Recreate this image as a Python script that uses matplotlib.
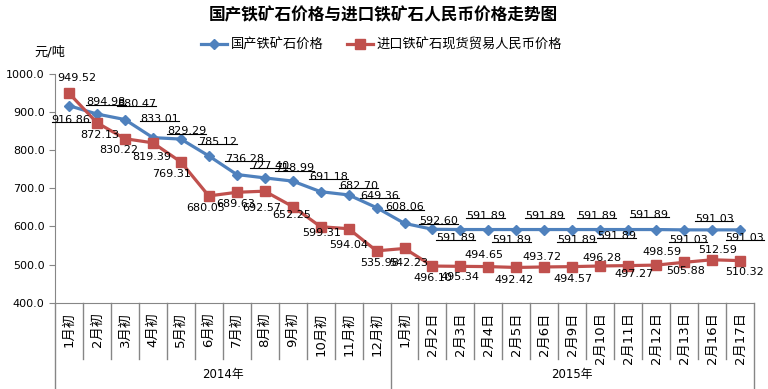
import matplotlib
matplotlib.use('Agg')
from matplotlib import pyplot as plt
from matplotlib.lines import Line2D
import numpy as np

plt.rcParams['font.family'] = ['DejaVu Sans', 'Noto Sans CJK SC']

# data
cats_2014 = ['1月初', '2月初', '3月初', '4月初', '5月初', '6月初', '7月初', '8月初',
             '9月初', '10月初', '11月初', '12月初']
cats_2015 = ['1月初', '2月2日', '2月3日', '2月4日', '2月5日', '2月6日', '2月9日',
             '2月10日', '2月11日', '2月12日', '2月13日', '2月16日', '2月17日']
groups = ['2014年', '2015年']

domestic = [916.86, 894.98, 880.47, 833.01, 829.29, 785.12, 736.28, 727.40, 718.99,
            691.18, 682.70, 649.36,
            608.06, 592.60, 591.89, 591.89, 591.89, 591.89, 591.89, 591.89, 591.89,
            591.89, 591.03, 591.03, 591.03]
imported = [949.52, 872.13, 830.22, 819.39, 769.31, 680.05, 689.63, 692.57, 652.25,
            599.31, 594.04, 535.98,
            542.23, 496.10, 495.34, 494.65, 492.42, 493.72, 494.57, 496.28, 497.27,
            498.59, 505.88, 512.59, 510.32]

# label offsets in pixels (dx, dy down)
blue_off = [(2, 14), (9, -12), (12, -16), (7, -19), (6, -8), (9, -14), (8, -16), (5, -12),
            (2, -13), (8, -15), (10, -9), (3, -12), (0, -16), (6, -8), (-5, 8), (-3, -14),
            (-5, 10), (0, -14), (4, 10), (-4, -14), (-12, 6), (-7, -15), (4, 10), (2, -11),
            (5, 8)]
red_off = [(8, -15), (3, 12), (-6, 11), (-1, 14), (-9, 12), (-3, 12), (-1, 12), (-3, 17),
           (-1, 8), (1, 6), (0, 16), (3, 12), (4, 15), (0, 12), (0, 11), (-4, -12),
           (-2, 13), (-2, -10), (1, 12), (2, -8), (6, 8), (6, -13), (2, 9), (6, -10),
           (5, 11)]

blue = '#4F81BD'
red = '#C0504D'
grey = '#868686'

cats = cats_2014 + cats_2015
x = np.arange(len(cats))

fig = plt.figure(figsize=(7.68, 3.89), dpi=100)
ax = fig.add_axes([0.0716, 0.2219, 0.9102, 0.5879])

ax.plot(x, domestic, color=blue, lw=2.3, marker='D', ms=5, label='国产铁矿石价格', zorder=3)
ax.plot(x, imported, color=red, lw=2.3, marker='s', ms=6.5, label='进口铁矿石现货贸易人民币价格', zorder=3)

ax.set_xlim(-0.5, len(cats) - 0.5)
ax.set_ylim(400, 1000)
ax.set_yticks(np.arange(400, 1001, 100))
ax.set_yticklabels(['%.1f' % v for v in np.arange(400, 1001, 100)], fontsize=8)
ax.set_xticks(x)
ax.set_xticklabels(cats, rotation=90, fontsize=9.5, va='top')
ax.tick_params(axis='x', length=0, pad=7)
ax.tick_params(axis='y', length=4, color=grey, direction='out')
for s in ['top', 'right']:
    ax.spines[s].set_visible(False)
for s in ['left', 'bottom']:
    ax.spines[s].set_color(grey)

# category separators
tr = ax.get_xaxis_transform()
h = ax.get_position().height * 3.89 * 100
for b in np.arange(-0.5, len(cats), 1.0):
    long_line = b in (-0.5, len(cats_2014) - 0.5, len(cats) - 0.5)
    depth = 87 if long_line else 56
    ax.add_line(Line2D([b, b], [0, -depth / h], transform=tr, color=grey, lw=1, clip_on=False))

ax.text((len(cats_2014) - 1) / 2, -72 / h, groups[0], transform=tr, ha='center', va='center', fontsize=8.5)
ax.text(len(cats_2014) + (len(cats_2015) - 1) / 2, -72 / h, groups[1], transform=tr,
        ha='center', va='center', fontsize=8.5)

blue_texts = []
for i, v in enumerate(domestic):
    dx, dy = blue_off[i]
    t = ax.annotate('%.2f' % v, (x[i], v), xytext=(dx, -dy), textcoords='offset pixels',
                    ha='center', va='center', fontsize=8, zorder=4)
    blue_texts.append(t)
for i, v in enumerate(imported):
    dx, dy = red_off[i]
    ax.annotate('%.2f' % v, (x[i], v), xytext=(dx, -dy), textcoords='offset pixels',
                ha='center', va='center', fontsize=8, zorder=4)

fig.text(0.499, 1 - 15 / 389, '国产铁矿石价格与进口铁矿石人民币价格走势图', ha='center', va='center',
         fontsize=12, fontweight='bold', family=['Noto Sans CJK SC'])
fig.text(49.5 / 768, 1 - 52 / 389, '元/吨', ha='center', va='center', fontsize=9.5)
fig.legend(loc='center', bbox_to_anchor=(0.497, 1 - 45 / 389), ncol=2, frameon=False,
           fontsize=9.5, handlelength=2.0, columnspacing=1.7, handletextpad=0.3)

# underline domestic labels
fig.canvas.draw()
renderer = fig.canvas.get_renderer()
inv = fig.transFigure.inverted()
for t in blue_texts:
    bb = t.get_window_extent(renderer)
    (x0, y0), (x1, _) = inv.transform([(bb.x0, bb.y0 + 2.5), (bb.x1, bb.y0 + 2.5)])
    fig.add_artist(Line2D([x0, x1], [y0, y0], transform=fig.transFigure, color='black', lw=0.8))

fig.savefig('out.png', dpi=100)
